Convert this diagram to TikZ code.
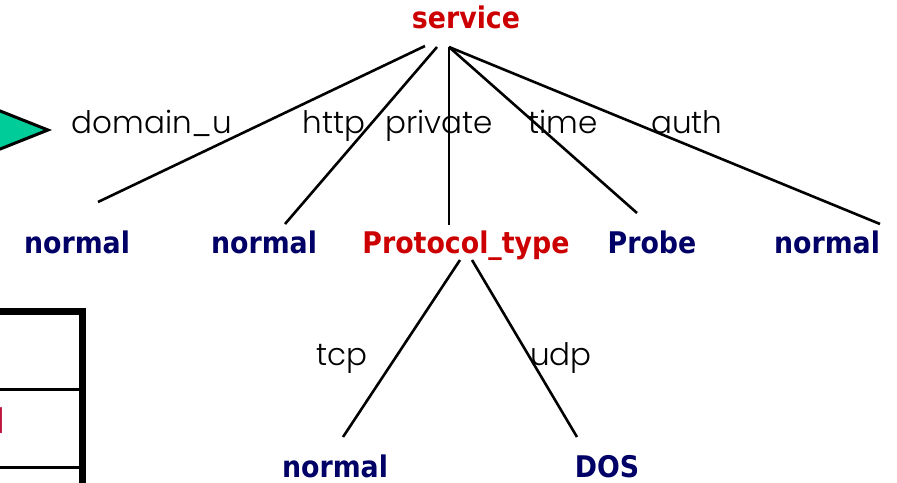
\documentclass[tikz,border=0pt]{standalone}
\usepackage{fontspec}
\newfontfamily\lblfont{Poppins Light}
\newfontfamily\boldfont{DejaVu Sans Condensed}
\definecolor{navy}{RGB}{0,0,102}
\definecolor{redtxt}{RGB}{204,0,0}
\definecolor{tgreen}{RGB}{0,204,153}
\definecolor{crimsontxt}{RGB}{190,20,60}
\tikzset{
  bnode/.style={inner sep=0pt, anchor=base, font=\boldfont\bfseries\fontsize{29.8}{30}\selectfont, text=navy},
  rnode/.style={bnode, text=redtxt},
  elabel/.style={inner sep=0pt, anchor=base, font=\lblfont\fontsize{31}{31}\selectfont, text=black},
  edge/.style={line width=2.6pt},
}
\begin{document}
\begin{tikzpicture}[x=1pt,y=-1pt]
\useasboundingbox (0,0) rectangle (897,482);
\clip (0,0) rectangle (897,482);
% triangle
\draw[fill=tgreen, line width=3pt, line join=miter] (-30,99) -- (48,130) -- (-30,161) -- cycle;
% table fragment
\draw[line width=3pt] (-5,389) -- (79,389);
\draw[line width=3pt] (-5,467) -- (79,467);
\draw[line width=7pt] (-5,311) -- (86,311);
\draw[line width=7pt] (82.5,308) -- (82.5,490);
\node[inner sep=0pt, anchor=base west, font=\boldfont\bfseries\fontsize{34}{34}\selectfont, text=crimsontxt] (tl) at (-6,433) {l};
% nodes
\node[rnode] (service) at (466,28) {service};
\node[bnode] (n1) at (77,253) {normal};
\node[bnode] (n2) at (264,253) {normal};
\node[rnode] (proto) at (466,253) {Protocol\_type};
\node[bnode] (probe) at (652,253) {Probe};
\node[bnode] (n5) at (827,253) {normal};
\node[bnode] (n6) at (335,477) {normal};
\node[bnode] (dos) at (607,477) {DOS};
% connector endpoints
\coordinate (s1) at (425,46);
\coordinate (s2) at (437,47);
\coordinate (s3) at (449,47);
\coordinate (e1) at (98,202);
\coordinate (e2) at (285,224);
\coordinate (e3) at (449,225);
\coordinate (e4) at (637,213);
\coordinate (e5) at (880,224);
\coordinate (p1) at (460,260);
\coordinate (p2) at (472,260);
\coordinate (f1) at (343,437);
\coordinate (f2) at (577,437);
\draw[edge] (s1) -- (e1);
\draw[edge] (s2) -- (e2);
\draw[edge] (s3) -- (e3);
\draw[edge] (s3) -- (e4);
\draw[edge] (s3) -- (e5);
\draw[edge] (p1) -- (f1);
\draw[edge] (p2) -- (f2);
% edge labels
\node[elabel] (l1) at (152,133) {domain\_u};
\node[elabel] (l2) at (334,133) {http};
\node[elabel] (l3) at (439,133) {private};
\node[elabel] (l4) at (563,133) {time};
\node[elabel] (l5) at (687,133) {auth};
\node[elabel] (l6) at (342,365) {tcp};
\node[elabel] (l7) at (561,365) {udp};
\end{tikzpicture}
\end{document}
